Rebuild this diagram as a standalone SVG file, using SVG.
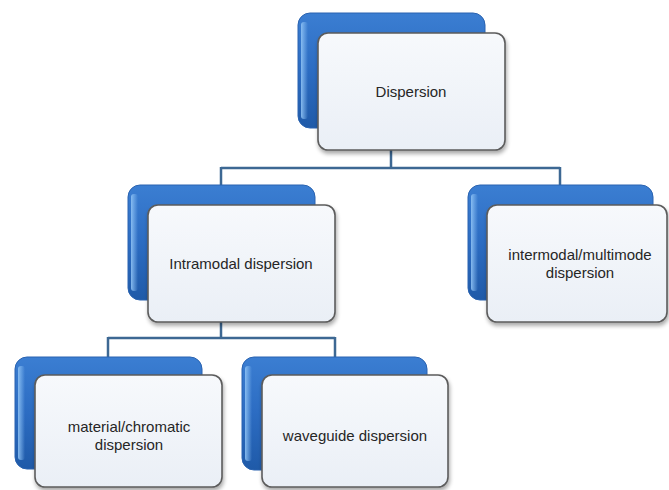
<svg xmlns="http://www.w3.org/2000/svg" width="669" height="490" viewBox="0 0 669 490">
<defs>
<linearGradient id="blueG" x1="0" y1="0" x2="0" y2="1">
<stop offset="0" stop-color="#3b7ed2"/>
<stop offset="0.5" stop-color="#2c6cc2"/>
<stop offset="1" stop-color="#1f5aa8"/>
</linearGradient>
<linearGradient id="hiG" x1="0" y1="0" x2="1" y2="0">
<stop offset="0" stop-color="#8fc3f5" stop-opacity="0.9"/>
<stop offset="1" stop-color="#8fc3f5" stop-opacity="0"/>
</linearGradient>
<linearGradient id="whiteG" x1="0" y1="0" x2="0" y2="1">
<stop offset="0" stop-color="#f7f9fc"/>
<stop offset="1" stop-color="#eaeff6"/>
</linearGradient>
<filter id="sh" x="-10%" y="-10%" width="125%" height="130%">
<feGaussianBlur in="SourceAlpha" stdDeviation="2"/>
<feOffset dx="1" dy="3" result="o"/>
<feComponentTransfer><feFuncA type="linear" slope="0.35"/></feComponentTransfer>
<feMerge><feMergeNode/><feMergeNode in="SourceGraphic"/></feMerge>
</filter>
</defs>
<style>
.back{fill:url(#blueG);stroke:#2a63b0;stroke-width:1}
.hi{fill:url(#hiG)}
.front{fill:url(#whiteG);stroke:#5c5c5c;stroke-width:1.6;filter:url(#sh)}
.lbl{font-family:"Liberation Sans",Arial,sans-serif;font-size:15px;fill:#262626;text-anchor:middle}
.conn{fill:none;stroke:#3d6893;stroke-width:2.5}
</style>
<rect width="669" height="490" fill="#ffffff"/>
<g id="connectors">
<path class="conn" d="M391,150 V168 M221,168 H560 M221,167 V186 M560,167 V186"/>
<path class="conn" d="M221,322 V338 M108,338 H335 M108,337 V358 M335,337 V358"/>
</g>
<g id="node-dispersion">
<rect class="back" x="298" y="13" width="187" height="115" rx="12"/>
<rect class="hi" x="301" y="22" width="7" height="97" rx="3"/>
<rect class="front" x="318" y="33" width="187" height="117" rx="10"/>
<text class="lbl" x="411" y="97">Dispersion</text>
</g>
<g id="node-intramodal">
<rect class="back" x="128" y="185" width="187" height="115" rx="12"/>
<rect class="hi" x="131" y="194" width="7" height="97" rx="3"/>
<rect class="front" x="148" y="205" width="187" height="117" rx="10"/>
<text class="lbl" x="241" y="269">Intramodal dispersion</text>
</g>
<g id="node-intermodal">
<rect class="back" x="468" y="185" width="185" height="115" rx="12"/>
<rect class="hi" x="471" y="194" width="7" height="97" rx="3"/>
<rect class="front" x="487" y="205" width="180" height="117" rx="10"/>
<text class="lbl" x="580" y="260">intermodal/multimode</text>
<text class="lbl" x="580" y="278">dispersion</text>
</g>
<g id="node-material">
<rect class="back" x="15" y="357" width="187" height="112" rx="12"/>
<rect class="hi" x="18" y="366" width="7" height="94" rx="3"/>
<rect class="front" x="35" y="375" width="187" height="112" rx="10"/>
<text class="lbl" x="129" y="432">material/chromatic</text>
<text class="lbl" x="129" y="450">dispersion</text>
</g>
<g id="node-waveguide">
<rect class="back" x="242" y="357" width="185" height="113" rx="12"/>
<rect class="hi" x="245" y="366" width="7" height="95" rx="3"/>
<rect class="front" x="262" y="375" width="186" height="112" rx="10"/>
<text class="lbl" x="355" y="441">waveguide dispersion</text>
</g>
</svg>
